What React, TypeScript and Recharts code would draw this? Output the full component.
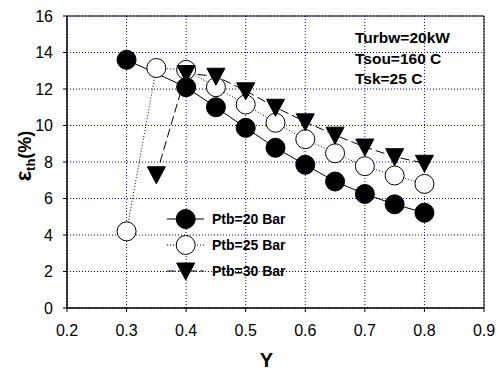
import React from 'react'
import {
  LineChart,
  Line,
  XAxis,
  YAxis,
  CartesianGrid,
  ReferenceArea,
  Legend,
  Label,
  Customized,
} from 'recharts'

const FONT = "Arial, 'Liberation Sans', sans-serif"

// Y ratio on the x axis, thermal efficiency (%) on the y axis
const yRatio20 = [0.3, 0.4, 0.45, 0.5, 0.55, 0.6, 0.65, 0.7, 0.75, 0.8]
const eff20 = [13.6, 12.1, 11.0, 9.87, 8.78, 7.85, 6.93, 6.25, 5.68, 5.22]

const yRatio25 = [0.3, 0.35, 0.4, 0.45, 0.5, 0.55, 0.6, 0.65, 0.7, 0.75, 0.8]
const eff25 = [4.2, 13.15, 13.05, 12.1, 11.15, 10.15, 9.25, 8.48, 7.77, 7.26, 6.8]

const yRatio30 = [0.35, 0.4, 0.45, 0.5, 0.55, 0.6, 0.65, 0.7, 0.75, 0.8]
const eff30 = [7.3, 12.85, 12.7, 11.9, 11.0, 10.2, 9.47, 8.82, 8.29, 7.93]

const xTicks = [0.2, 0.3, 0.4, 0.5, 0.6, 0.7, 0.8, 0.9]
const yTicks = [0, 2, 4, 6, 8, 10, 12, 14, 16]

const seriesNames = ['Ptb=20 Bar', 'Ptb=25 Bar', 'Ptb=30 Bar']
const notes = ['Turbw=20kW', 'Tsou=160 C', 'Tsk=25 C']

const toRows = (xs: number[], ys: number[]) => xs.map((x, i) => ({ x, y: ys[i] }))

const rows20 = toRows(yRatio20, eff20)
const rows25 = toRows(yRatio25, eff25)
const rows30 = toRows(yRatio30, eff30)

type Kind = 'filled' | 'open' | 'triangle'

function Marker({ kind, cx, cy }: { kind: Kind; cx: number; cy: number }) {
  if (kind === 'triangle') {
    return (
      <polygon
        points={`${cx - 9},${cy - 8} ${cx + 9},${cy - 8} ${cx},${cy + 9}`}
        fill="#000"
        stroke="#000"
        strokeWidth={1}
      />
    )
  }
  return (
    <circle
      cx={cx}
      cy={cy}
      r={9.5}
      fill={kind === 'filled' ? '#000' : '#fff'}
      stroke="#000"
      strokeWidth={1}
    />
  )
}

const dotFor = (kind: Kind) => (p: any) => (
  <Marker key={`${kind}-${p.index}`} kind={kind} cx={p.cx} cy={p.cy} />
)

const legendRows: { kind: Kind; dash?: string }[] = [
  { kind: 'filled' },
  { kind: 'open', dash: '1 2' },
  { kind: 'triangle', dash: '8 3' },
]

function LegendBox() {
  return (
    <svg width={140} height={80}>
      {legendRows.map((r, i) => {
        const cy = 14 + i * 26
        return (
          <g key={i}>
            <line x1={7} x2={44} y1={cy} y2={cy} stroke="#000" strokeDasharray={r.dash} />
            <Marker kind={r.kind} cx={25.7} cy={cy} />
            <text
              x={52}
              y={cy + 5}
              fontFamily={FONT}
              fontSize={14}
              fontWeight="bold"
              fill="#000"
            >
              {seriesNames[i]}
            </text>
          </g>
        )
      })}
    </svg>
  )
}

function Notes() {
  return (
    <g>
      {notes.map((t, i) => (
        <text
          key={t}
          x={355}
          y={43 + i * 20.5}
          fontFamily={FONT}
          fontSize={15.5}
          fontWeight="bold"
          fill="#000"
        >
          {t}
        </text>
      ))}
    </g>
  )
}

export default function App() {
  return (
    <div style={{ position: 'absolute', left: 0, top: 0, background: '#fff' }}>
      <LineChart
        width={498}
        height={371}
        margin={{ top: 16, right: 14, bottom: 0, left: 0 }}
      >
        <CartesianGrid stroke="#000099" strokeDasharray="1 2" />
        <ReferenceArea
          x1={0.2}
          x2={0.9}
          y1={0}
          y2={16}
          fill="none"
          stroke="#000"
          strokeWidth={1}
          fillOpacity={0}
        />
        <XAxis
          type="number"
          dataKey="x"
          domain={[0.2, 0.9]}
          ticks={xTicks}
          tickFormatter={(v: number) => v.toFixed(1)}
          allowDataOverflow
          height={63}
          tickSize={4}
          tickMargin={13}
          stroke="#000"
          tick={{ fill: '#000', fontSize: 16, fontFamily: FONT }}
        >
          <Label
            content={({ viewBox }: any) => (
              <text
                x={viewBox.x + viewBox.width / 2 - 9}
                y={viewBox.y + 59}
                textAnchor="middle"
                fontFamily={FONT}
                fontSize={20}
                fontWeight="bold"
                fill="#000"
              >
                Y
              </text>
            )}
          />
        </XAxis>
        <YAxis
          type="number"
          domain={[0, 16]}
          ticks={yTicks}
          allowDataOverflow
          width={67}
          tickSize={4}
          tickMargin={10}
          stroke="#000"
          tick={{ fill: '#000', fontSize: 16, fontFamily: FONT }}
        >
          <Label
            content={() => (
              <text
                transform="translate(31,156) rotate(-90)"
                textAnchor="middle"
                fontFamily={FONT}
                fontWeight="bold"
                fill="#000"
              >
                <tspan fontSize={22}>ε</tspan>
                <tspan fontSize={13} dy={4}>th</tspan>
                <tspan fontSize={18} dy={-4}>(%)</tspan>
              </text>
            )}
          />
        </YAxis>
        <Legend
          layout="vertical"
          align="center"
          verticalAlign="middle"
          content={() => <LegendBox />}
          wrapperStyle={{ left: 160, top: 205, width: 140, height: 80 }}
        />
        <Line
          data={rows25}
          dataKey="y"
          stroke="#000"
          strokeWidth={1}
          strokeDasharray="1 2"
          dot={dotFor('open')}
          activeDot={false}
          isAnimationActive={false}
        />
        <Line
          data={rows20}
          dataKey="y"
          stroke="#000"
          strokeWidth={1}
          dot={dotFor('filled')}
          activeDot={false}
          isAnimationActive={false}
        />
        <Line
          data={rows30}
          dataKey="y"
          stroke="#000"
          strokeWidth={1}
          strokeDasharray="9 4"
          dot={dotFor('triangle')}
          activeDot={false}
          isAnimationActive={false}
        />
        <Customized component={Notes} />
      </LineChart>
    </div>
  )
}
